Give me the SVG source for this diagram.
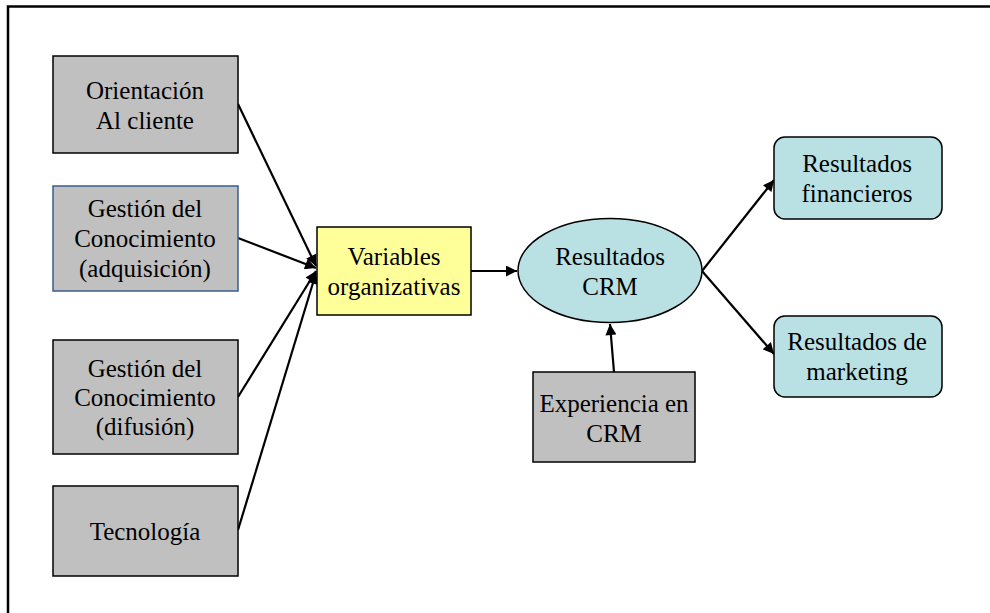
<svg xmlns="http://www.w3.org/2000/svg" width="990" height="613" viewBox="0 0 990 613">
<style>
.t{font-family:"Liberation Serif","Times New Roman",serif;font-size:25px;fill:#000;text-anchor:middle}
.gray{fill:#c0c0c0;stroke:#000;stroke-width:1.5}
.cyan{fill:#b9e0e3;stroke:#000;stroke-width:1.5}
.c{stroke:#000;stroke-width:2.2;fill:none;marker-end:url(#ah)}
</style>
<defs>
<marker id="ah" viewBox="0 0 10 10" refX="10" refY="5" markerWidth="5.5" markerHeight="5" markerUnits="strokeWidth" orient="auto">
<path d="M0,0 L10,5 L0,10 z" fill="#000"/>
</marker>
</defs>
<rect width="990" height="613" fill="#fff"/>
<path d="M8,613 L8,6.5 L990,6.5" fill="none" stroke="#000" stroke-width="2.5"/>
<g id="connectors">
<line class="c" x1="238" y1="104" x2="316" y2="266"/>
<line class="c" x1="238" y1="238" x2="316" y2="268"/>
<line class="c" x1="238" y1="397" x2="316" y2="271"/>
<line class="c" x1="238" y1="530" x2="316" y2="273"/>
<line class="c" x1="471" y1="271" x2="517" y2="271"/>
<line class="c" x1="614" y1="372" x2="610" y2="324"/>
<line class="c" x1="702" y1="271" x2="774" y2="180"/>
<line class="c" x1="702" y1="271" x2="774" y2="354"/>
</g>
<g id="orientacion">
<rect class="gray" x="53" y="56" width="185" height="97"/>
<text class="t" x="145" y="99">Orientación</text>
<text class="t" x="145" y="129">Al cliente</text>
</g>
<g id="gestion-adquisicion">
<rect x="53" y="186" width="185" height="105" fill="#c0c0c0" stroke="#385d8a" stroke-width="1.5"/>
<text class="t" x="145" y="217">Gestión del</text>
<text class="t" x="145" y="247">Conocimiento</text>
<text class="t" x="145" y="277">(adquisición)</text>
</g>
<g id="gestion-difusion">
<rect class="gray" x="53" y="340" width="185" height="114"/>
<text class="t" x="145" y="377">Gestión del</text>
<text class="t" x="145" y="406">Conocimiento</text>
<text class="t" x="145" y="435">(difusión)</text>
</g>
<g id="tecnologia">
<rect class="gray" x="53" y="486" width="185" height="90"/>
<text class="t" x="145" y="540">Tecnología</text>
</g>
<g id="variables">
<rect x="317" y="227" width="154" height="88" fill="#ffff99" stroke="#000" stroke-width="1.5"/>
<text class="t" x="394" y="265">Variables</text>
<text class="t" x="394" y="295">organizativas</text>
</g>
<g id="resultados-crm">
<ellipse class="cyan" cx="610" cy="270.5" rx="92" ry="52"/>
<text class="t" x="610" y="265">Resultados</text>
<text class="t" x="610" y="295">CRM</text>
</g>
<g id="experiencia">
<rect class="gray" x="533" y="372" width="162" height="90"/>
<text class="t" x="614" y="412">Experiencia en</text>
<text class="t" x="614" y="442">CRM</text>
</g>
<g id="financieros">
<rect class="cyan" x="774" y="137" width="168" height="82" rx="11"/>
<text class="t" x="857" y="172">Resultados</text>
<text class="t" x="857" y="202">financieros</text>
</g>
<g id="marketing">
<rect class="cyan" x="774" y="316" width="168" height="81" rx="11"/>
<text class="t" x="857" y="350">Resultados de</text>
<text class="t" x="857" y="380">marketing</text>
</g>
</svg>
